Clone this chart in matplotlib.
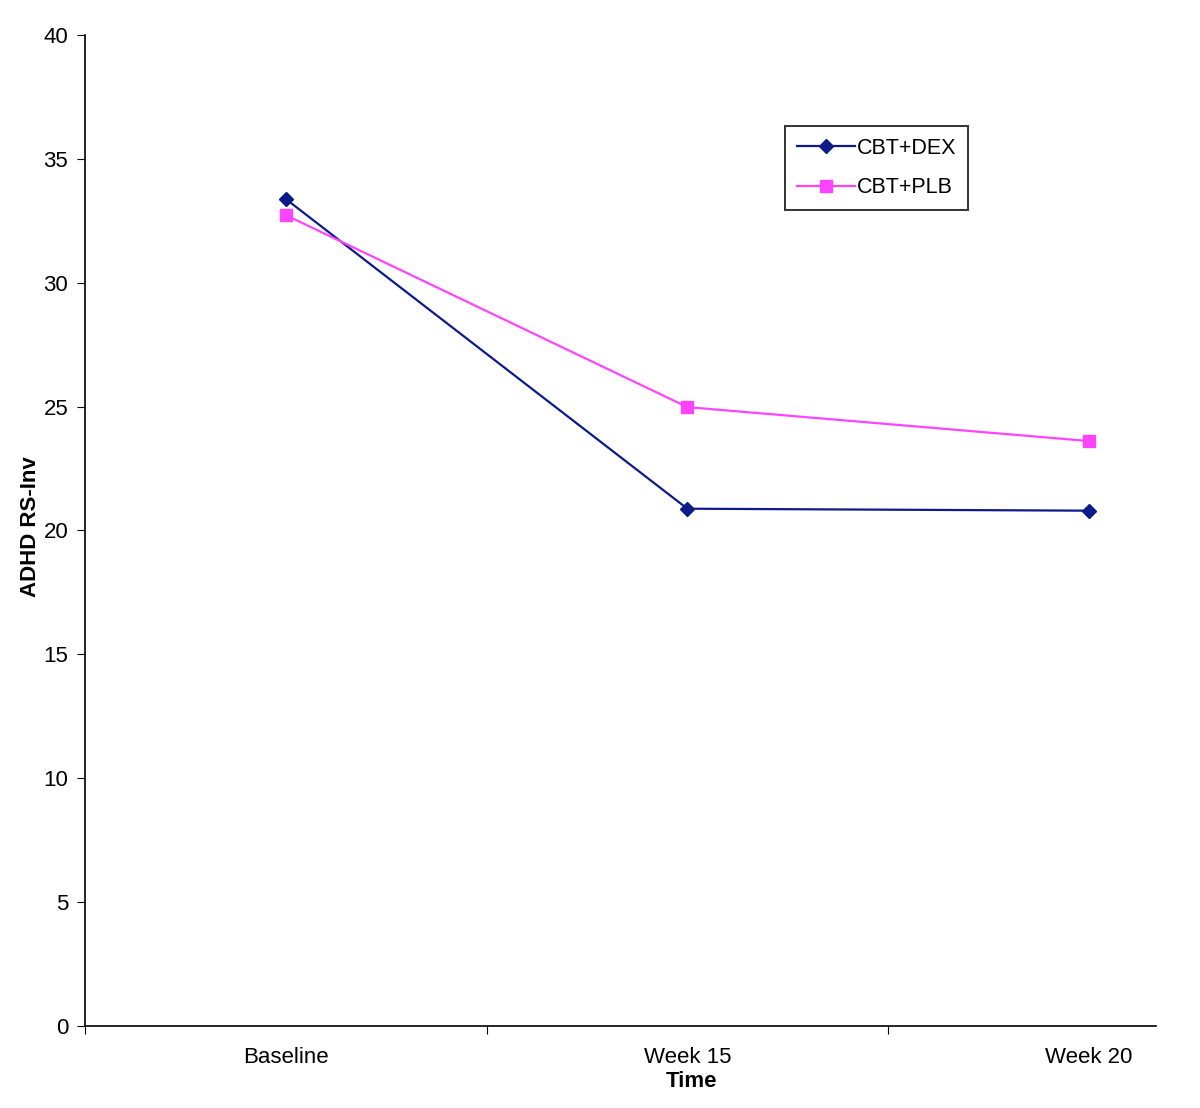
import matplotlib.pyplot as plt

plt.rcParams['font.family'] = ['Liberation Sans', 'DejaVu Sans']

time_points = ['Baseline', 'Week 15', 'Week 20']
cbt_dex = [33.38, 20.88, 20.80]
cbt_plb = [32.73, 24.98, 23.61]

fig = plt.figure(figsize=(12, 11.08), dpi=100)
ax = fig.add_axes([85 / 1200, 1 - 1026 / 1108, (1156 - 85) / 1200, (1026 - 35) / 1108])

x = list(range(len(time_points)))
ax.plot(x, cbt_dex, color='#0d1a8a', lw=1.6, marker='D', ms=7.5, label='CBT+DEX')
ax.plot(x, cbt_plb, color='#ff44ff', lw=1.6, marker='s', ms=9, label='CBT+PLB')

ax.set_xlim(-0.5, (1156 - 286) / 401.5)
ax.set_ylim(0, 40)
ax.set_yticks(range(0, 41, 5))
ax.set_xticks([-0.5, 0.5, 1.5])
ax.set_xticklabels([])
ax.set_xticks(x, minor=True)
ax.set_xticklabels(time_points, minor=True)
ax.tick_params(axis='x', which='minor', length=0, pad=15, labelsize=16)
ax.tick_params(axis='x', which='major', length=6, direction='out')
ax.tick_params(axis='y', length=6, direction='out', labelsize=16, pad=6)

for s in ['top', 'right']:
    ax.spines[s].set_visible(False)
ax.spines['left'].set_linewidth(1.2)
ax.spines['bottom'].set_linewidth(1.2)

ax.set_xlabel('Time', fontsize=16, fontweight='bold')
ax.set_ylabel('ADHD RS-Inv', fontsize=16, fontweight='bold')
ax.xaxis.set_label_coords((691 - 85) / 1071, (1026 - 1071) / 991)
ax.yaxis.set_label_coords((41 - 85) / 1071, (1026 - 527) / 991)

leg = ax.legend(loc='upper left', bbox_to_anchor=((785 - 85) / 1071, (1026 - 126) / 991),
                fontsize=15.5, frameon=True, fancybox=False, shadow=False, borderaxespad=0,
                handlelength=2.7, borderpad=0.55, labelspacing=0.85, handletextpad=0.1)
leg.get_frame().set_edgecolor('black')
leg.get_frame().set_linewidth(1.4)

fig.savefig('out.png', dpi=100)
